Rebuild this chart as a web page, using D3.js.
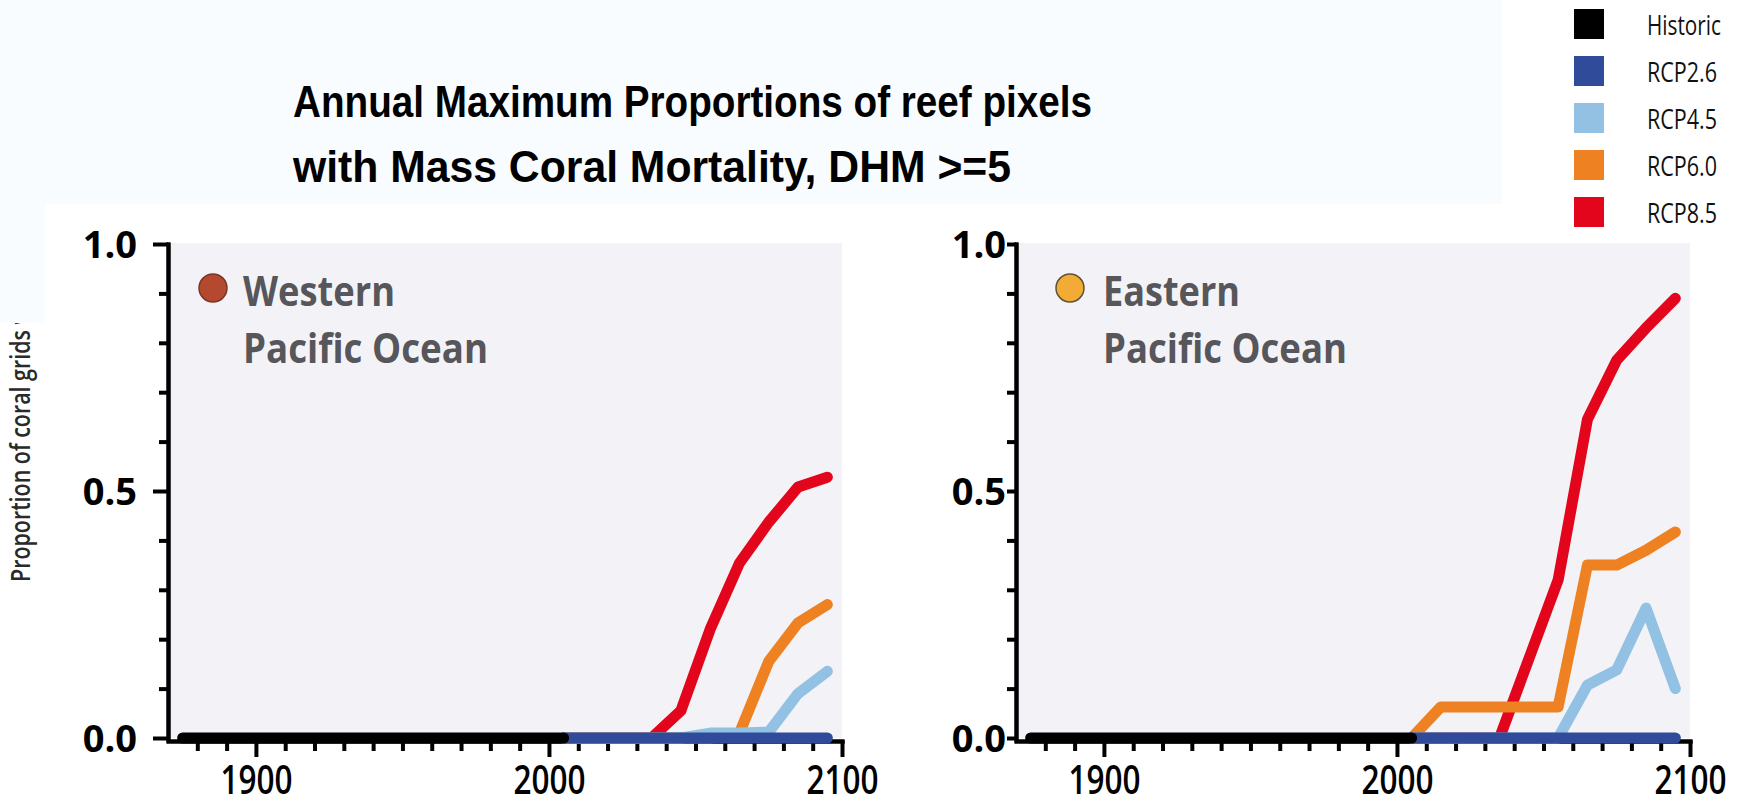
<!DOCTYPE html>
<html>
<head>
<meta charset="utf-8">
<script src="https://cdn.jsdelivr.net/npm/d3@7"></script>
<style>
  body { margin: 0; background: #fff; }
  svg { display: block; }
</style>
</head>
<body>
<svg id="chart" width="1756" height="810"></svg>
<script>
// ---- data ----
const historicYears = [1875, 1885, 1895, 1905, 1915, 1925, 1935, 1945, 1955, 1965, 1975, 1985, 1995, 2005];
const historicValues = [0, 0, 0, 0, 0, 0, 0, 0, 0, 0, 0, 0, 0, 0];

const scenarioYears = [2005, 2015, 2025, 2035, 2045, 2055, 2065, 2075, 2085, 2095];

const westRCP26 = [0, 0, 0, 0, 0, 0, 0, 0, 0, 0];
const westRCP45 = [0, 0, 0, 0, 0, 0.01, 0.01, 0.012, 0.09, 0.135];
const westRCP60 = [0, 0, 0, 0, 0, 0, 0.01, 0.155, 0.233, 0.27];
const westRCP85 = [0, 0, 0, 0, 0.055, 0.22, 0.354, 0.437, 0.508, 0.528];

const eastRCP26 = [0, 0, 0, 0, 0, 0, 0, 0, 0, 0];
const eastRCP45 = [0, 0, 0, 0, 0, 0, 0.107, 0.138, 0.263, 0.1];
const eastRCP60 = [0, 0.063, 0.063, 0.063, 0.063, 0.063, 0.35, 0.35, 0.38, 0.417];
const eastRCP85 = [0, 0, 0, 0, 0.16, 0.32, 0.645, 0.765, 0.83, 0.89];

const legendLabels = ['Historic', 'RCP2.6', 'RCP4.5', 'RCP6.0', 'RCP8.5'];
const legendColors = ['#000000', '#2f4b99', '#92c1e4', '#ee8222', '#e3051b'];

const xDomain = [1870, 2100];
const xMajorTicks = [1900, 2000, 2100];
const xMinorTicks = [1880, 1890, 1910, 1920, 1930, 1940, 1950, 1960, 1970, 1980, 1990,
                     2010, 2020, 2030, 2040, 2050, 2060, 2070, 2080, 2090];
const yMajorTicks = [0, 0.5, 1.0];
const yMinorTicks = [0.1, 0.2, 0.3, 0.4, 0.6, 0.7, 0.8, 0.9];

const titleLines = ['Annual Maximum Proportions of reef pixels', 'with Mass Coral Mortality, DHM >=5'];
const titleWidths = [799, 718];

const svg = d3.select('#chart');

// light blue-white box behind the title
svg.append('rect').attr('x', 0).attr('y', 0).attr('width', 1502).attr('height', 204).attr('fill', '#f9fcfe');

// y axis label (its top is hidden under the box strip, as in the source)
svg.append('text')
  .attr('transform', 'translate(30,582) rotate(-90)')
  .attr('textLength', 275)
  .attr('lengthAdjust', 'spacingAndGlyphs')
  .style('font-family', '"Open Sans", sans-serif')
  .style('font-weight', 600)
  .style('font-size', '27px')
  .style('fill', '#2a2a2a')
  .text('Proportion of coral grids w');
svg.append('rect').attr('x', 0).attr('y', 204).attr('width', 45).attr('height', 119).attr('fill', '#f9fcfe');

// title
svg.selectAll('.title')
  .data(titleLines)
  .enter()
  .append('text')
  .attr('class', 'title')
  .attr('x', 293)
  .attr('y', (d, i) => 117 + i * 65)
  .attr('textLength', (d, i) => titleWidths[i])
  .attr('lengthAdjust', 'spacingAndGlyphs')
  .style('font-family', '"Liberation Sans", Arial, sans-serif')
  .style('font-weight', 'bold')
  .style('font-size', '44px')
  .style('fill', '#000')
  .text(d => d);

// legend
const legend = svg.append('g');
legend.selectAll('rect')
  .data(legendLabels)
  .enter()
  .append('rect')
  .attr('x', 1574)
  .attr('y', (d, i) => 9 + i * 47)
  .attr('width', 30)
  .attr('height', 30)
  .attr('fill', (d, i) => legendColors[i]);
legend.selectAll('text')
  .data(legendLabels)
  .enter()
  .append('text')
  .attr('x', 1647)
  .attr('y', (d, i) => 35 + i * 47)
  .attr('textLength', (d, i) => i === 0 ? 74 : 70)
  .attr('lengthAdjust', 'spacingAndGlyphs')
  .style('font-family', '"Open Sans", sans-serif')
  .style('font-size', '27px')
  .style('fill', '#111')
  .text(d => d);

const panels = [
  {
    left: 168, right: 842, name: ['Western', 'Pacific Ocean'], nameX: 243, nameW: [152, 245],
    dotX: 213, dotFill: '#b4492f', dotStroke: '#7b3626',
    yTick: 15, yPad: 16,
    series: [westRCP85, westRCP60, westRCP45, westRCP26]
  },
  {
    left: 1016, right: 1690, name: ['Eastern', 'Pacific Ocean'], nameX: 1103, nameW: [137, 244],
    dotX: 1070, dotFill: '#f2ab35', dotStroke: '#5e5138',
    yTick: 9, yPad: 1,
    series: [eastRCP85, eastRCP60, eastRCP45, eastRCP26]
  }
];
// draw order: RCP8.5, RCP6.0, RCP4.5, RCP2.6, then Historic on top
const seriesColors = [legendColors[4], legendColors[3], legendColors[2], legendColors[1]];

panels.forEach(p => {
  const x = d3.scaleLinear().domain(xDomain).range([p.left, p.right]);
  const y = d3.scaleLinear().domain([0, 1]).range([738, 244]);
  const g = svg.append('g');

  // plot background
  g.append('rect')
    .attr('x', p.left)
    .attr('y', y(1) - 1)
    .attr('width', p.right - p.left)
    .attr('height', y(0) - y(1) + 1)
    .attr('fill', '#f3f3f7');

  // Y axis minor + major
  g.append('g')
    .attr('class', 'axis')
    .attr('transform', `translate(${p.left},0)`)
    .call(d3.axisLeft(y).tickValues(yMinorTicks).tickSize(9).tickSizeOuter(0).tickFormat(''));
  g.append('g')
    .attr('class', 'axis ymajor')
    .attr('transform', `translate(${p.left},0)`)
    .call(d3.axisLeft(y).tickValues(yMajorTicks).tickSize(p.yTick).tickSizeOuter(0)
      .tickPadding(p.yPad).tickFormat(d3.format('.1f')));

  // X axis minor + major
  const xAxisY = y(0) + 3;
  g.append('g')
    .attr('class', 'axis')
    .attr('transform', `translate(0,${xAxisY})`)
    .call(d3.axisBottom(x).tickValues(xMinorTicks).tickSize(10).tickSizeOuter(0).tickFormat(''));
  g.append('g')
    .attr('class', 'axis xmajor')
    .attr('transform', `translate(0,${xAxisY})`)
    .call(d3.axisBottom(x).tickValues(xMajorTicks).tickSize(16).tickSizeOuter(0)
      .tickPadding(9).tickFormat(d3.format('d')));

  g.selectAll('.axis path.domain, .axis line')
    .attr('stroke', '#000')
    .attr('stroke-width', 4);
  g.selectAll('.axis path.domain').attr('stroke-linecap', 'square');
  g.selectAll('.ymajor text')
    .style('font-family', '"Open Sans", sans-serif')
    .style('font-weight', 700)
    .style('font-size', '38px')
    .attr('dy', '0.36em')
    .style('fill', '#000');
  g.selectAll('.xmajor text')
    .style('font-family', '"Open Sans", sans-serif')
    .style('font-weight', 600)
    .style('font-size', '40px')
    .attr('textLength', 72)
    .attr('lengthAdjust', 'spacingAndGlyphs')
    .style('fill', '#000');

  // region label
  g.append('circle')
    .attr('cx', p.dotX).attr('cy', 288).attr('r', 14)
    .attr('fill', p.dotFill).attr('stroke', p.dotStroke).attr('stroke-width', 1.5);
  g.selectAll('.region')
    .data(p.name)
    .enter()
    .append('text')
    .attr('class', 'region')
    .attr('x', p.nameX)
    .attr('y', (d, i) => 306 + i * 57)
    .attr('textLength', (d, i) => p.nameW[i])
    .attr('lengthAdjust', 'spacingAndGlyphs')
    .style('font-family', '"Open Sans", sans-serif')
    .style('font-weight', 700)
    .style('font-size', '41px')
    .style('fill', '#56565b')
    .text(d => d);

  // lines
  const line = d3.line()
    .x(d => x(d[0]))
    .y(d => y(d[1]));

  p.series.forEach((vals, i) => {
    g.append('path')
      .datum(scenarioYears.map((yr, j) => [yr, vals[j]]))
      .attr('d', line)
      .attr('fill', 'none')
      .attr('stroke', seriesColors[i])
      .attr('stroke-width', 11)
      .attr('stroke-linejoin', 'round')
      .attr('stroke-linecap', 'round');
  });

  g.append('path')
    .datum(historicYears.map((yr, j) => [yr, historicValues[j]]))
    .attr('d', line)
    .attr('fill', 'none')
    .attr('stroke', legendColors[0])
    .attr('stroke-width', 11)
    .attr('stroke-linecap', 'round');
});
</script>
</body>
</html>
